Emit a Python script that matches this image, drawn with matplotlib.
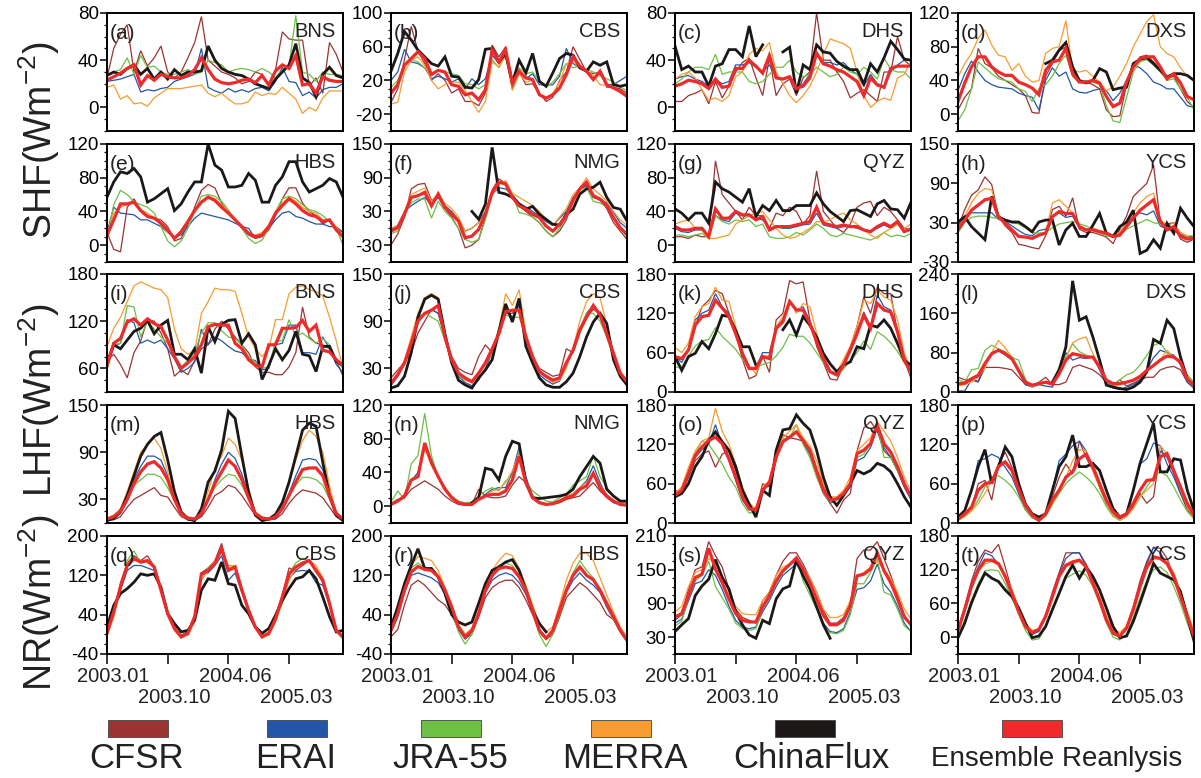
"""monthly surface energy fluxes at ChinaFlux sites: reanalyses vs. observations"""

import matplotlib
matplotlib.use('Agg')
import matplotlib.pyplot as plt
from matplotlib.patches import Rectangle
from matplotlib.ticker import AutoMinorLocator
import numpy as np

nan = np.nan

# ---- monthly values, 2003.01 .. 2005.12 (36 months) ----
# (a) SHF BNS
a_cfsr = [25,50,62,70,30,48,35,42,52,30,25,30,42,55,77,40,35,30,28,25,20,22,30,28,18,32,64,58,57,57,18,25,12,55,45,30]
a_erai = [22,23,24,26,28,13,15,14,16,17,22,24,26,28,50,17,14,12,16,13,15,13,16,17,14,22,34,22,21,10,13,8,15,17,17,20]
a_jra = [27,30,32,42,28,44,34,35,30,28,28,30,32,28,30,40,38,36,30,32,33,32,30,33,30,25,32,35,78,30,28,22,30,28,28,27]
a_merra = [17,19,7,10,3,4,1,8,12,16,16,16,17,18,19,12,9,12,7,3,3,5,13,10,12,11,17,12,7,-5,0,-3,8,14,14,14]
a_flux = [27,30,28,33,36,28,33,24,30,24,32,27,30,30,31,52,40,33,30,28,27,24,20,18,16,24,30,36,54,25,21,9,28,34,27,25]
a_ens = [23,26,29,33,36,19,27,23,28,26,25,25,27,32,42,32,24,21,20,21,23,24,21,27,19,31,36,33,44,19,20,12,26,23,22,22]
# (b) SHF CBS
b_cfsr = [-6,10,45,84,55,40,20,28,20,5,10,-5,-5,-10,5,62,48,60,10,30,15,16,5,-5,0,20,30,60,45,30,28,30,12,12,10,5]
b_erai = [20,30,57,42,40,35,22,25,22,18,22,10,22,15,22,50,40,48,15,30,22,28,15,14,15,25,58,40,35,30,22,28,15,15,20,25]
b_jra = [12,20,40,45,42,35,28,32,30,28,26,16,15,10,15,45,35,50,22,35,28,30,20,12,18,28,40,35,37,33,30,25,22,18,12,8]
b_merra = [-8,-6,30,44,48,38,20,10,15,18,18,8,-5,-18,-5,42,36,50,8,28,18,20,5,-2,5,18,40,42,35,30,26,15,14,12,5,2]
b_flux = [31,52,78,68,56,48,40,37,48,25,24,12,11,21,57,58,42,52,17,44,29,52,19,13,29,46,52,50,35,31,42,38,42,15,13,15]
b_ens = [5,15,38,46,54,46,27,32,30,15,13,3,5,-3,9,56,42,56,17,31,23,21,3,-1,3,11,27,48,37,31,21,31,15,11,7,1]
# (c) SHF DHS
c_cfsr = [5,5,10,12,15,3,22,8,18,30,38,42,25,10,42,10,20,24,10,25,30,80,40,40,30,22,8,12,15,10,5,30,30,60,40,35]
c_erai = [24,26,27,24,22,18,24,20,22,36,36,38,34,30,36,26,24,26,16,20,28,45,38,38,36,38,32,28,18,28,20,18,30,36,40,40]
c_jra = [20,24,30,34,34,32,45,28,30,30,30,22,20,22,28,34,34,40,30,26,28,34,30,26,28,34,30,28,34,30,24,42,32,30,30,24]
c_merra = [24,28,30,25,15,6,8,5,10,26,30,45,50,48,55,30,20,10,4,10,18,30,45,58,56,54,50,30,10,0,5,8,6,25,28,40]
c_flux = [52,32,35,30,30,18,35,37,49,49,43,69,43,53,nan,nan,47,51,12,36,32,53,47,46,39,35,32,32,20,37,30,42,56,49,41,40]
c_ens = [18,20,23,22,20,16,24,17,18,33,33,40,35,29,44,25,24,26,16,18,25,46,37,35,32,30,26,22,10,25,19,17,33,35,35,35]
# (d) SHF DXS
d_cfsr = [5,20,30,78,60,55,45,40,35,30,22,2,1,45,60,75,80,45,38,38,35,30,5,-3,-2,35,55,68,70,62,52,42,45,30,15,8]
d_erai = [28,48,63,50,40,35,32,31,30,25,22,20,5,40,55,45,50,30,26,25,28,30,28,16,25,40,58,55,48,38,35,30,30,20,10,8]
d_jra = [-8,5,30,62,55,48,42,40,38,30,27,15,30,35,45,60,70,45,38,40,38,35,10,-8,-10,20,50,62,65,58,50,40,42,30,20,5]
d_merra = [44,60,72,90,100,82,70,68,52,60,45,38,40,72,78,80,111,52,50,52,45,38,28,32,45,60,80,95,110,118,80,72,68,55,45,40]
d_flux = [nan,nan,nan,nan,nan,nan,nan,nan,nan,nan,nan,nan,nan,60,64,76,85,56,40,37,40,54,50,29,31,32,60,65,67,60,52,44,48,48,46,40]
d_ens = [15,37,56,68,68,56,50,46,46,38,35,31,23,52,62,64,78,48,38,38,40,37,21,9,13,38,56,66,68,68,56,42,48,37,21,17]
# (e) SHF HBS
e_cfsr = [15,-5,-8,45,55,42,35,32,30,22,5,8,25,45,65,72,68,50,38,30,20,12,8,10,18,35,55,68,68,50,40,35,25,30,20,15]
e_erai = [15,45,38,37,36,30,30,26,22,15,10,12,22,32,38,36,34,32,30,26,22,20,8,12,20,30,38,40,34,32,28,25,25,22,22,15]
e_jra = [8,48,65,60,52,48,45,38,22,5,-2,5,20,40,58,60,58,52,42,30,20,8,2,6,20,40,55,58,55,48,42,40,35,28,20,0]
e_merra = [12,38,45,48,50,42,38,32,25,15,10,15,28,42,52,58,55,48,40,32,22,14,12,15,24,40,50,57,52,45,40,38,30,30,22,10]
e_flux = [57,75,87,85,91,81,51,55,61,67,41,49,63,75,75,120,95,89,69,69,71,85,77,51,51,71,81,99,99,75,63,67,71,79,75,57]
e_ens = [12,30,49,49,51,41,34,32,26,18,8,16,28,41,51,57,53,45,38,30,22,14,10,12,22,38,47,55,49,41,36,34,28,30,18,10]
# (f) SHF NMG
f_cfsr = [-30,-10,20,70,78,80,50,55,35,20,0,-35,-30,-20,20,68,88,80,60,40,30,20,10,-5,-15,-5,15,50,68,78,55,50,35,10,-5,-20]
f_erai = [-2,5,30,40,48,55,42,55,40,30,15,-5,0,10,30,60,72,70,60,45,38,30,22,12,5,18,30,55,70,75,55,52,45,28,10,0]
f_jra = [-10,-5,25,45,52,52,18,48,30,18,0,-20,-25,-20,15,60,80,82,60,28,25,20,10,-5,-15,0,20,50,70,72,48,45,38,20,0,-15]
f_merra = [0,5,30,60,66,72,48,62,44,35,20,-5,0,10,25,58,78,85,62,55,48,40,30,15,5,20,35,60,72,90,70,60,48,30,15,5]
f_flux = [nan,nan,nan,nan,nan,nan,nan,nan,nan,nan,nan,nan,30,16,43,144,64,61,55,43,34,39,25,16,7,6,25,34,61,70,73,82,55,37,34,13]
f_ens = [-5,1,25,55,58,64,40,61,37,25,13,-17,-14,-2,25,64,82,79,55,40,34,25,19,4,-5,7,22,49,70,82,58,52,40,19,1,-11]
# (g) SHF QYZ
g_cfsr = [10,10,8,12,10,10,100,60,50,40,30,45,35,35,20,38,35,45,40,25,35,88,40,30,20,15,25,45,50,52,35,45,40,30,20,18]
g_erai = [20,16,15,18,18,12,35,30,28,38,35,35,32,30,20,22,20,20,22,24,25,38,24,22,20,22,22,20,18,16,20,24,20,25,16,20]
g_jra = [12,12,10,12,14,8,35,28,25,30,28,30,22,25,10,8,8,10,15,12,18,25,20,12,10,14,12,10,8,6,10,15,10,12,10,14]
g_merra = [25,28,30,20,18,8,8,10,12,25,30,35,38,40,30,20,12,8,10,15,20,28,28,30,35,38,30,25,18,12,8,15,20,25,20,25]
g_flux = [43,38,30,38,38,26,75,67,63,57,51,67,34,47,41,53,41,41,47,47,47,62,49,40,34,28,41,42,38,34,49,53,43,42,32,51]
g_ens = [22,18,18,20,20,10,43,32,32,40,36,36,30,34,18,22,22,22,24,26,28,45,26,24,22,24,22,22,18,16,22,26,22,28,16,19]
# (h) SHF YCS
h_cfsr = [22,50,72,80,100,88,40,25,15,-3,-5,-8,-10,10,50,55,40,68,20,15,15,12,8,-2,20,40,70,80,90,118,30,28,30,5,0,5]
h_erai = [22,40,45,45,45,45,35,32,25,18,12,10,18,20,40,45,38,40,22,20,18,18,15,10,15,28,40,45,42,48,25,20,18,12,8,10]
h_jra = [15,30,38,40,40,38,36,34,30,28,22,15,14,15,22,28,30,32,28,25,20,15,10,8,12,20,25,30,35,30,28,25,20,15,8,5]
h_merra = [20,40,60,75,82,80,40,30,20,10,8,6,12,15,60,65,55,45,25,20,22,18,15,10,15,30,45,60,70,75,35,25,30,15,10,10]
h_flux = [31,39,24,14,4,70,39,34,31,31,24,16,31,34,34,-4,19,29,9,9,26,44,14,9,24,31,49,-17,-12,4,-9,29,14,52,37,24]
h_ens = [19,34,49,57,65,67,39,29,19,9,8,6,11,14,39,47,44,44,24,19,19,16,14,9,11,24,37,49,57,65,32,19,24,9,5,6]
# (i) LHF BNS
i_cfsr = [70,78,65,48,80,95,122,120,105,85,50,58,52,70,85,90,110,120,110,100,90,80,62,55,55,52,52,62,80,138,100,92,90,85,70,50]
i_erai = [60,88,92,122,118,92,96,92,96,85,72,55,60,68,110,90,100,95,88,82,80,72,70,58,60,90,92,115,115,80,80,78,100,85,65,55]
i_jra = [58,90,92,140,138,100,120,110,100,92,75,62,70,80,105,118,118,108,100,98,90,75,68,60,62,95,95,122,100,105,98,92,98,90,70,60]
i_merra = [88,111,125,145,165,170,166,162,160,150,110,85,78,82,130,145,162,160,160,158,130,100,85,75,85,122,122,155,163,165,160,158,152,125,95,60]
i_flux = [67,90,85,96,107,111,121,104,115,121,78,78,71,85,54,113,94,116,121,122,92,104,90,46,64,85,71,83,107,78,76,56,88,88,69,64]
i_ens = [64,92,98,119,123,115,123,117,113,96,75,60,67,75,90,113,116,115,115,92,85,71,64,62,90,90,111,111,112,121,107,115,83,81,71,64]
# (j) LHF CBS
j_cfsr = [18,28,38,50,75,90,105,100,70,45,30,25,22,45,60,50,80,100,100,112,65,45,30,25,20,22,55,50,75,95,105,100,70,45,25,15]
j_erai = [8,20,35,60,90,100,105,100,70,40,20,12,8,15,30,50,75,105,95,110,70,40,22,15,10,14,35,55,80,100,110,100,75,45,22,10]
j_jra = [10,22,38,60,95,100,95,90,65,40,22,15,12,25,38,55,80,98,95,95,70,45,28,20,15,18,35,55,80,100,100,90,70,45,25,15]
j_merra = [12,25,40,70,100,120,125,120,75,40,25,15,12,25,35,50,80,125,110,130,75,45,25,18,12,15,30,55,90,115,125,120,85,50,25,12]
j_flux = [5,8,20,50,95,118,123,118,74,37,15,9,5,18,28,41,77,112,89,119,58,37,18,9,6,6,13,24,45,70,89,100,87,41,20,9]
j_ens = [11,22,37,62,90,100,104,110,70,41,24,18,13,24,37,55,74,102,104,104,70,45,26,20,15,18,37,53,79,95,110,98,74,49,24,13]
# (k) LHF DHS
k_cfsr = [50,50,65,100,130,140,155,150,120,90,50,20,25,55,30,110,120,170,165,168,110,70,45,20,18,40,68,100,145,120,160,150,150,90,50,20]
k_erai = [55,45,65,110,120,125,150,130,120,95,55,35,38,60,60,100,110,140,125,130,108,80,55,32,28,45,68,92,122,100,148,130,125,95,55,30]
k_jra = [38,38,55,70,78,80,98,85,75,65,50,35,38,42,45,55,68,88,85,85,75,60,45,30,25,35,48,60,78,65,92,85,75,62,45,32]
k_merra = [68,60,75,115,130,135,160,140,138,100,60,40,28,55,55,100,115,140,120,135,130,90,55,30,30,50,70,100,140,135,155,145,140,110,60,35]
k_flux = [54,33,54,59,77,66,89,117,115,94,69,69,41,nan,nan,nan,95,110,87,115,102,84,59,43,31,41,46,69,66,102,99,110,97,74,48,41]
k_ens = [54,51,64,102,115,117,140,128,115,89,59,36,36,54,51,97,107,138,125,125,105,77,51,31,26,41,64,89,117,97,135,125,122,92,48,31]
# (l) LHF DXS
l_cfsr = [30,25,25,20,50,50,50,48,45,30,15,12,20,30,15,15,20,50,55,50,45,35,20,12,25,12,18,25,30,30,45,50,52,45,20,8]
l_erai = [2,2,25,22,55,80,85,75,65,40,15,10,15,12,10,40,80,65,70,68,72,45,15,8,5,10,15,25,45,70,85,80,75,55,20,8]
l_jra = [25,20,45,48,85,95,88,82,70,65,25,12,15,18,20,50,70,98,82,75,70,50,20,15,25,35,40,55,75,95,100,80,70,60,35,20]
l_merra = [12,15,20,30,50,80,105,90,70,45,20,10,20,18,15,40,70,100,108,112,78,50,25,12,15,20,25,35,45,55,65,85,70,60,25,10]
l_flux = [nan,nan,nan,nan,nan,nan,nan,nan,nan,nan,nan,nan,nan,nan,20,45,92,226,146,153,112,65,14,10,7,5,10,20,41,107,99,146,129,71,27,14]
l_ens = [17,18,27,34,58,78,85,78,68,44,20,14,17,20,16,37,65,78,75,71,71,51,24,17,17,20,24,31,44,54,65,73,71,61,27,14]
# (m) LHF HBS
m_cfsr = [4,4,8,20,30,35,40,45,35,33,20,8,4,3,8,20,35,40,48,45,35,22,10,5,4,5,12,25,35,42,40,38,32,20,8,3]
m_erai = [3,5,12,28,55,72,85,85,80,60,30,10,4,3,10,30,55,75,90,82,62,35,12,5,4,6,18,38,60,80,82,80,68,38,10,4]
m_jra = [6,10,18,32,48,55,62,62,58,45,28,14,8,6,14,30,45,55,62,60,48,30,14,8,6,10,20,35,48,58,58,55,48,30,14,6]
m_merra = [4,8,18,40,65,90,100,108,95,65,30,10,4,3,15,40,70,85,108,100,80,45,12,4,3,8,25,50,80,105,118,110,90,48,12,3]
m_flux = [3,6,15,35,60,85,100,110,115,80,40,14,5,3,18,52,66,93,142,133,85,39,10,3,5,11,26,52,85,118,127,123,77,35,10,3]
m_ens = [5,8,15,30,50,65,75,78,70,55,30,12,6,5,12,30,50,65,80,72,55,32,12,6,5,8,18,35,52,68,70,70,60,35,12,5]
# (n) LHF NMG
n_cfsr = [2,6,10,20,25,30,25,20,12,6,2,1,2,20,12,10,10,12,25,35,28,10,4,2,2,4,8,10,12,20,28,18,10,4,2,1]
n_erai = [3,8,10,30,40,70,55,35,20,10,4,2,2,8,14,20,22,22,40,70,35,12,5,3,3,6,10,15,22,30,48,28,12,5,2,1]
n_jra = [5,18,8,50,60,110,60,35,22,12,6,4,5,12,18,22,18,30,35,65,30,18,12,6,5,10,14,25,30,35,60,35,22,12,5,3]
n_merra = [3,6,14,30,35,68,50,35,22,12,5,3,3,8,12,18,20,28,42,62,30,10,4,2,3,6,12,15,22,28,38,25,14,6,2,1]
n_flux = [nan,nan,nan,nan,nan,nan,nan,nan,nan,nan,nan,nan,4,10,45,43,31,59,77,74,28,10,9,10,11,12,14,20,35,47,59,51,20,12,6,6]
n_ens = [2,6,12,31,35,75,51,35,20,10,4,2,2,8,12,14,14,18,31,59,28,10,4,2,3,6,10,12,20,24,39,22,12,6,2,1]
# (o) LHF QYZ
o_cfsr = [50,45,70,95,105,110,85,105,110,80,50,25,20,60,55,95,135,130,128,125,110,80,60,30,15,35,45,110,145,155,140,110,100,80,55,40]
o_erai = [38,48,70,100,112,120,150,118,95,65,35,20,20,50,58,100,125,132,140,122,105,75,45,30,35,42,55,95,100,115,145,115,100,80,55,35]
o_jra = [40,50,80,105,125,120,105,90,70,55,30,15,18,48,60,105,128,130,150,120,100,70,45,32,35,45,60,100,105,120,150,100,100,80,60,42]
o_merra = [45,55,85,110,125,130,175,140,120,90,55,30,22,55,65,110,130,140,150,130,118,95,60,40,40,50,70,110,120,130,155,140,125,100,70,48]
o_flux = [40,45,60,86,101,126,139,124,111,86,50,29,9,50,42,111,142,144,165,152,142,111,70,40,27,42,60,80,75,80,91,87,78,60,40,24]
o_ens = [42,50,75,103,116,126,131,121,98,70,40,22,20,50,62,101,124,131,139,126,111,80,50,35,37,45,60,106,111,121,149,121,108,86,60,40]
# (p) LHF YCS
p_cfsr = [5,12,22,60,65,35,90,108,85,50,25,10,4,12,40,70,90,75,125,100,80,55,30,15,5,12,25,45,30,40,110,100,75,45,20,8]
p_erai = [5,18,50,95,98,105,100,85,70,45,20,8,4,14,50,95,105,118,125,110,85,55,30,12,6,15,50,90,98,122,118,90,70,45,25,8]
p_jra = [4,10,20,35,55,70,72,65,55,40,20,8,3,10,28,45,60,70,78,70,60,45,25,10,4,10,22,40,55,70,78,72,55,35,18,6]
p_merra = [4,10,18,30,45,65,90,95,80,50,25,10,3,12,30,50,70,95,112,110,80,55,30,12,4,10,22,40,50,60,118,105,80,50,25,8]
p_flux = [9,19,50,86,112,60,86,116,101,60,29,14,9,14,50,86,101,134,86,86,91,80,50,22,9,14,50,91,121,152,78,78,98,96,50,19]
p_ens = [6,14,24,50,60,62,86,93,80,52,27,12,4,14,35,50,70,78,98,105,86,60,35,17,9,14,30,50,65,66,101,106,80,55,30,12]
# (q) NR CBS
q_cfsr = [5,45,105,145,160,150,160,138,95,42,10,-2,5,35,125,135,150,185,130,135,92,48,15,-5,4,38,80,135,130,140,150,130,105,60,8,-3]
q_erai = [8,50,90,130,140,140,135,130,88,40,10,-2,5,38,120,125,140,160,110,125,85,45,15,-3,4,35,75,115,128,130,128,105,100,60,10,-2]
q_jra = [0,40,100,150,170,145,150,140,90,40,8,-8,0,30,120,135,150,175,135,140,95,48,12,-8,0,30,72,125,145,155,150,125,110,60,5,-10]
q_merra = [-2,35,95,145,150,150,145,140,95,45,15,-5,-2,25,110,130,150,170,140,140,95,50,15,-5,-2,25,65,110,135,145,150,140,115,65,10,-5]
q_flux = [15,59,83,93,106,123,120,123,96,42,22,5,8,29,90,113,110,147,103,100,59,42,15,2,12,39,69,93,113,117,130,113,76,36,5,8]
q_ens = [2,46,96,140,154,147,150,137,90,42,12,-5,2,36,123,130,144,174,130,137,90,49,15,-5,2,32,76,123,137,145,150,130,110,63,8,-5]
# (r) NR HBS
r_cfsr = [-5,10,60,100,110,100,85,70,60,40,10,-8,0,35,75,95,105,110,110,95,70,40,5,-10,0,35,75,90,105,95,80,65,40,30,10,-10]
r_erai = [5,35,85,120,125,120,115,105,82,50,10,-10,5,38,85,110,120,125,120,105,82,45,5,-10,5,45,85,110,125,110,100,85,55,30,5,-15]
r_jra = [10,45,95,135,145,135,130,120,90,50,5,-20,0,40,90,125,140,145,140,120,90,45,0,-25,0,40,85,125,150,130,115,90,60,30,5,-15]
r_merra = [15,50,100,140,158,155,150,130,95,60,20,0,12,48,100,130,150,165,160,135,100,60,20,5,15,60,110,145,165,165,150,115,80,45,15,-5]
r_flux = [15,56,103,140,174,134,134,117,83,40,25,19,25,63,103,130,137,147,152,130,90,49,22,5,nan,nan,nan,nan,nan,nan,nan,nan,nan,nan,nan,nan]
r_ens = [8,42,90,127,138,132,130,117,90,56,15,-5,8,42,90,120,134,137,134,117,90,49,8,-8,8,49,90,120,137,120,111,90,63,36,8,-12]
# (s) NR QYZ
s_cfsr = [60,70,115,150,155,200,175,155,115,80,65,60,55,95,110,140,165,180,180,160,135,110,78,55,55,65,90,170,185,185,200,170,140,105,70,50]
s_erai = [55,62,95,125,130,150,140,115,85,60,48,45,48,75,95,120,140,150,160,140,115,85,55,40,38,45,75,115,118,130,160,125,110,85,55,40]
s_jra = [50,58,100,130,140,165,120,100,80,55,45,42,45,80,100,125,145,160,170,130,105,80,50,38,36,42,70,125,125,145,170,110,105,80,50,40]
s_merra = [75,85,120,145,150,170,160,140,110,85,72,70,70,95,110,140,155,160,165,155,135,110,80,65,65,70,95,140,145,155,165,150,135,110,80,62]
s_flux = [40,52,63,104,121,133,168,136,116,75,52,34,28,60,54,98,116,121,168,139,116,84,52,28,nan,nan,nan,nan,nan,nan,nan,nan,nan,nan,nan,nan]
s_ens = [66,72,104,136,142,188,151,127,98,72,60,57,57,84,104,130,148,159,171,151,127,98,69,52,52,60,86,139,142,151,180,148,127,98,66,52]
# (t) NR YCS
t_cfsr = [15,55,100,135,155,150,165,125,82,48,20,5,12,40,80,115,150,150,150,130,100,68,30,5,0,18,55,100,135,160,158,140,108,72,35,0]
t_erai = [10,50,95,125,150,145,130,105,75,45,18,5,10,35,75,112,140,150,150,125,95,62,28,6,2,15,50,95,130,160,150,130,105,70,35,0]
t_jra = [0,30,65,95,118,120,118,95,70,40,12,-5,-3,18,50,80,105,112,118,110,90,60,25,0,-5,5,35,70,100,120,125,115,90,60,25,-5]
t_merra = [12,50,92,118,130,135,128,110,85,52,25,12,15,40,75,108,125,130,135,125,100,72,40,15,8,20,55,92,120,138,140,135,115,80,45,12]
t_flux = [-1,25,61,90,114,105,99,84,72,52,25,-1,2,19,49,78,108,128,105,125,108,84,52,19,-1,2,28,61,96,131,114,108,102,81,37,-7]
t_ens = [11,49,90,119,137,137,131,108,78,46,19,8,14,37,72,108,128,134,137,125,96,66,31,8,2,16,49,90,125,143,140,131,108,72,37,2]

MONTHS = np.arange(36)
DATE_TICKS = [0, 9, 18, 27]
DATE_LABELS = ['2003.01', '2003.10', '2004.06', '2005.03']

PRODUCTS = ['CFSR', 'ERAI', 'JRA-55', 'MERRA', 'ChinaFlux', 'Ensemble Reanlysis']
COLORS = ['#9b3333', '#2456a8', '#6cc044', '#f89b30', '#1c1818', '#ee2a2a']
WIDTHS = [0.9, 0.9, 0.9, 0.9, 2.0, 2.3]

# letter, station, y-limits, y-ticks, series
PANELS = [
    ('a', 'BNS', (-20, 80), [0, 40, 80], [a_cfsr, a_erai, a_jra, a_merra, a_flux, a_ens]),
    ('b', 'CBS', (-40, 100), [-20, 20, 60, 100], [b_cfsr, b_erai, b_jra, b_merra, b_flux, b_ens]),
    ('c', 'DHS', (-20, 80), [0, 40, 80], [c_cfsr, c_erai, c_jra, c_merra, c_flux, c_ens]),
    ('d', 'DXS', (-20, 120), [0, 40, 80, 120], [d_cfsr, d_erai, d_jra, d_merra, d_flux, d_ens]),
    ('e', 'HBS', (-20, 120), [0, 40, 80, 120], [e_cfsr, e_erai, e_jra, e_merra, e_flux, e_ens]),
    ('f', 'NMG', (-60, 150), [-30, 30, 90, 150], [f_cfsr, f_erai, f_jra, f_merra, f_flux, f_ens]),
    ('g', 'QYZ', (-20, 120), [0, 40, 80, 120], [g_cfsr, g_erai, g_jra, g_merra, g_flux, g_ens]),
    ('h', 'YCS', (-30, 150), [-30, 30, 90, 150], [h_cfsr, h_erai, h_jra, h_merra, h_flux, h_ens]),
    ('i', 'BNS', (30, 180), [60, 120, 180], [i_cfsr, i_erai, i_jra, i_merra, i_flux, i_ens]),
    ('j', 'CBS', (0, 150), [30, 90, 150], [j_cfsr, j_erai, j_jra, j_merra, j_flux, j_ens]),
    ('k', 'DHS', (0, 180), [0, 60, 120, 180], [k_cfsr, k_erai, k_jra, k_merra, k_flux, k_ens]),
    ('l', 'DXS', (0, 240), [0, 80, 160, 240], [l_cfsr, l_erai, l_jra, l_merra, l_flux, l_ens]),
    ('m', 'HBS', (0, 150), [30, 90, 150], [m_cfsr, m_erai, m_jra, m_merra, m_flux, m_ens]),
    ('n', 'NMG', (-20, 120), [0, 40, 80, 120], [n_cfsr, n_erai, n_jra, n_merra, n_flux, n_ens]),
    ('o', 'QYZ', (0, 180), [0, 60, 120, 180], [o_cfsr, o_erai, o_jra, o_merra, o_flux, o_ens]),
    ('p', 'YCS', (0, 180), [0, 60, 120, 180], [p_cfsr, p_erai, p_jra, p_merra, p_flux, p_ens]),
    ('q', 'CBS', (-40, 200), [-40, 40, 120, 200], [q_cfsr, q_erai, q_jra, q_merra, q_flux, q_ens]),
    ('r', 'HBS', (-40, 200), [-40, 40, 120, 200], [r_cfsr, r_erai, r_jra, r_merra, r_flux, r_ens]),
    ('s', 'QYZ', (0, 210), [30, 90, 150, 210], [s_cfsr, s_erai, s_jra, s_merra, s_flux, s_ens]),
    ('t', 'YCS', (-30, 180), [0, 60, 120, 180], [t_cfsr, t_erai, t_jra, t_merra, t_flux, t_ens]),
]

plt.rcParams['font.family'] = ['Liberation Sans', 'DejaVu Sans']
plt.rcParams['mathtext.fontset'] = 'custom'
plt.rcParams['mathtext.rm'] = 'Liberation Sans'
plt.rcParams['axes.unicode_minus'] = False

FIG_W, FIG_H = 1201, 778
COL_X = [107, 391, 675, 958]
ROW_Y = [13, 144, 274, 405, 536]
PANEL_W, PANEL_H = 236, 118


def _axes_rect(row, col):
    return [COL_X[col] / FIG_W, 1 - (ROW_Y[row] + PANEL_H) / FIG_H,
            PANEL_W / FIG_W, PANEL_H / FIG_H]


def _style_axes(ax, ylim, yticks, bottom_row):
    ax.set_xlim(0, 35)
    ax.set_ylim(*ylim)
    ax.set_yticks(yticks)
    ax.yaxis.set_minor_locator(AutoMinorLocator(4))
    ax.tick_params(axis='y', which='major', direction='out', length=5,
                   width=1.1, labelsize=13.5, pad=1)
    ax.tick_params(axis='y', which='minor', direction='out', length=2.5, width=0.9)
    for spine in ax.spines.values():
        spine.set_linewidth(1.4)
    if bottom_row:
        ax.set_xticks(DATE_TICKS)
        ax.set_xticklabels([])
        ax.tick_params(axis='x', direction='out', length=7, width=1.1)
        for pos, (tick, label) in enumerate(zip(DATE_TICKS, DATE_LABELS)):
            ax.text(tick + 1.0, -0.19 if pos % 2 == 0 else -0.37, label,
                    transform=ax.get_xaxis_transform(), ha='center', va='center',
                    fontsize=14.5, color='#222222')
    else:
        ax.set_xticks([])


fig = plt.figure(figsize=(FIG_W / 100, FIG_H / 100), dpi=100)

for idx, (letter, station, ylim, yticks, series) in enumerate(PANELS):
    row, col = divmod(idx, 4)
    ax = fig.add_axes(_axes_rect(row, col))
    for values, color, width in zip(series, COLORS, WIDTHS):
        ax.plot(MONTHS, values, color=color, linewidth=width, solid_joinstyle='miter')
    _style_axes(ax, ylim, yticks, row == 4)
    ax.text(0.012, 0.83, f'({letter})', transform=ax.transAxes,
            ha='left', va='center', fontsize=15, color='#222222')
    ax.text(0.97, 0.84, station, transform=ax.transAxes,
            ha='right', va='center', fontsize=14.5, color='#222222')

# row labels
for text, y_px in [('SHF(Wm$^{\\mathregular{-2}}$)', 140),
                   ('LHF(Wm$^{\\mathregular{-2}}$)', 400),
                   ('NR(Wm$^{\\mathregular{-2}}$)', 603)]:
    fig.text(39 / FIG_W, 1 - y_px / FIG_H, text, rotation=90,
             ha='center', va='center', fontsize=27, color='#222222')

# legend: swatch above, name below
SWATCH_X = [108, 267, 421, 591, 775, 1002]
LABEL_X = [137, 296, 450, 625, 811, 1057]
for name, color, sx, lx in zip(PRODUCTS, COLORS, SWATCH_X, LABEL_X):
    fig.add_artist(Rectangle((sx / FIG_W, 1 - 737 / FIG_H), 60 / FIG_W, 17 / FIG_H,
                             transform=fig.transFigure, facecolor=color,
                             edgecolor='#444444', linewidth=0.6))
    fig.text(lx / FIG_W, 1 - 759 / FIG_H, name, ha='center', va='center',
             fontsize=20 if name.startswith('Ensemble') else 25, color='#222222')

fig.savefig('out.png', dpi=100)
